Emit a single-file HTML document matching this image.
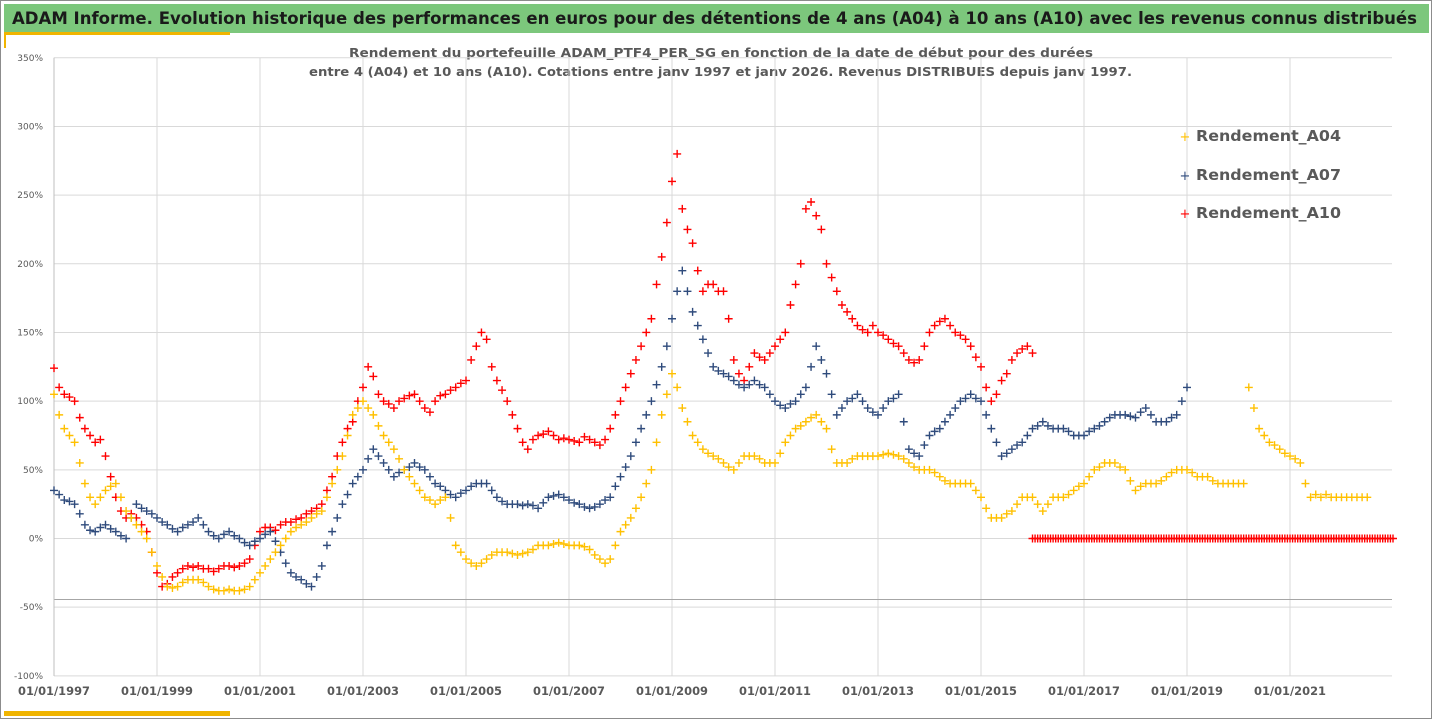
<!DOCTYPE html>
<html><head><meta charset="utf-8">
<style>
body{margin:0;background:#fff;}
#wrap{position:relative;width:1432px;height:719px;overflow:hidden;font-family:"DejaVu Sans","Liberation Sans",sans-serif;}
svg text{font-family:"DejaVu Sans","Liberation Sans",sans-serif;}
</style></head>
<body>
<div id="wrap">
<svg id="svg" width="1432" height="719" xmlns="http://www.w3.org/2000/svg">
<rect x="0.5" y="0.5" width="1431" height="718" fill="#fff" stroke="#8c8c8c"/>
<rect x="4" y="4" width="1425" height="29" fill="#7cc77c"/>
<rect x="4" y="32" width="226" height="3" fill="#f0b400"/>
<rect x="4" y="35" width="2" height="13" fill="#f0b400"/>
<rect x="4" y="711" width="226" height="5" fill="#f0b400"/>
<text x="12" y="24" font-size="16.5" font-weight="bold" fill="#1a1a1a" textLength="1405" lengthAdjust="spacingAndGlyphs">ADAM Informe. Evolution historique des performances en euros pour des détentions de 4 ans (A04) à 10 ans (A10) avec les revenus connus distribués</text>
<text x="349" y="57" font-size="12.5" font-weight="bold" fill="#595959" textLength="744" lengthAdjust="spacingAndGlyphs">Rendement du portefeuille ADAM_PTF4_PER_SG  en fonction de la date de début pour des durées</text>
<text x="309" y="76" font-size="12.5" font-weight="bold" fill="#595959" textLength="823" lengthAdjust="spacingAndGlyphs">entre 4 (A04) et 10 ans (A10). Cotations entre janv 1997 et janv 2026. Revenus DISTRIBUES depuis janv 1997.</text>
<g id="grid"></g><g id="axes"></g><g id="marks"></g>
<g>
<text x="1185" y="141" font-size="13" fill="#ffc000" text-anchor="middle">+</text>
<text x="1196" y="141" font-size="15" font-weight="bold" fill="#595959" textLength="145" lengthAdjust="spacingAndGlyphs">Rendement_A04</text>
<text x="1185" y="180" font-size="13" fill="#2f4b7c" text-anchor="middle">+</text>
<text x="1196" y="180" font-size="15" font-weight="bold" fill="#595959" textLength="145" lengthAdjust="spacingAndGlyphs">Rendement_A07</text>
<text x="1185" y="218" font-size="13" fill="#ff0000" text-anchor="middle">+</text>
<text x="1196" y="218" font-size="15" font-weight="bold" fill="#595959" textLength="145" lengthAdjust="spacingAndGlyphs">Rendement_A10</text>
</g>
</svg>
</div>
<script>
const yTicks=[350,300,250,200,150,100,50,0,-50,-100];
const xTickYears=[1997,1999,2001,2003,2005,2007,2009,2011,2013,2015,2017,2019,2021];
const startYear=1997, stepYears=0.1;
const a04=[105,90,80,75,70,55,40,30,25,30,35,38,40,30,20,15,10,5,0,-10,-20,-28,-35,-36,-35,-32,-30,-30,-30,-32,-35,-37,-38,-38,-37,-38,-38,-37,-35,-30,-25,-20,-15,-10,-5,0,5,8,10,12,15,18,20,30,40,50,60,75,90,95,100,95,90,82,75,70,65,58,50,45,40,35,30,28,25,28,30,15,-5,-10,-15,-18,-20,-18,-15,-12,-10,-10,-10,-11,-12,-11,-10,-8,-5,-5,-5,-4,-3,-4,-5,-5,-5,-6,-8,-12,-15,-18,-15,-5,5,10,15,22,30,40,50,70,90,105,120,110,95,85,75,70,65,62,60,58,55,52,50,55,60,60,60,58,55,55,55,62,70,75,80,82,85,88,90,85,80,65,55,55,55,58,60,60,60,60,60,61,62,61,60,58,55,52,50,50,50,48,45,42,40,40,40,40,40,35,30,22,15,15,15,18,20,25,30,30,30,25,20,25,30,30,30,32,35,38,40,45,50,52,55,55,55,52,50,42,35,38,40,40,40,42,45,48,50,50,50,48,45,45,45,42,40,40,40,40,40,40,110,95,80,75,70,68,65,62,60,58,55,40,30,32,30,32,30,30,30,30,30,30,30,30];
const a07=[35,32,28,27,25,18,10,6,5,8,10,7,5,2,0,15,25,22,20,18,15,12,10,7,5,8,10,12,15,10,5,2,0,3,5,2,0,-3,-5,-2,0,3,5,-2,-10,-18,-25,-28,-30,-33,-35,-28,-20,-5,5,15,25,32,40,45,50,58,65,60,55,50,45,48,50,52,55,52,50,45,40,38,35,32,30,33,35,38,40,40,40,35,30,27,25,25,25,24,25,24,22,26,30,31,32,30,28,26,25,23,22,23,25,28,30,38,45,52,60,70,80,90,100,112,125,140,160,180,195,180,165,155,145,135,125,122,120,118,115,112,110,112,115,112,110,105,100,97,95,98,100,105,110,125,140,130,120,105,90,95,100,102,105,100,95,92,90,95,100,102,105,85,65,62,60,68,75,78,80,85,90,95,100,102,105,102,100,90,80,70,60,62,65,68,70,75,80,82,85,82,80,80,80,78,75,75,75,78,80,82,85,88,90,90,90,89,88,92,95,90,85,85,85,88,90,100,110];
const a10=[124,110,105,103,100,88,80,75,70,72,60,45,30,20,15,18,15,10,5,-10,-25,-35,-33,-28,-25,-22,-20,-21,-20,-22,-22,-24,-22,-20,-20,-21,-20,-18,-15,-5,5,8,8,6,10,12,12,14,15,18,20,22,25,35,45,60,70,80,85,100,110,125,118,105,100,98,95,100,102,104,105,100,95,92,100,104,105,108,110,113,115,130,140,150,145,125,115,108,100,90,80,70,65,72,75,76,78,75,72,73,72,71,70,74,72,70,68,72,80,90,100,110,120,130,140,150,160,185,205,230,260,280,240,225,215,195,180,185,185,180,180,160,130,120,115,125,135,132,130,135,140,145,150,170,185,200,240,245,235,225,200,190,180,170,165,160,155,152,150,155,150,148,145,142,140,135,130,128,130,140,150,155,158,160,155,150,148,145,140,132,125,110,100,105,115,120,130,135,138,140,135];
const a10TailStart=2016.0, a10TailStep=0.05;
const a10Tail=[0,0,0,0,0,0,0,0,0,0,0,0,0,0,0,0,0,0,0,0,0,0,0,0,0,0,0,0,0,0,0,0,0,0,0,0,0,0,0,0,0,0,0,0,0,0,0,0,0,0,0,0,0,0,0,0,0,0,0,0,0,0,0,0,0,0,0,0,0,0,0,0,0,0,0,0,0,0,0,0,0,0,0,0,0,0,0,0,0,0,0,0,0,0,0,0,0,0,0,0,0,0,0,0,0,0,0,0,0,0,0,0,0,0,0,0,0,0,0,0,0,0,0,0,0,0,0,0,0,0,0,0,0,0,0,0,0,0,0,0,0];

const NS="http://www.w3.org/2000/svg";
const X0=54, YEARPX=51.5;
function xs(t){return X0+(t-1997)*YEARPX;}
function ys(v){return 538.5-v*1.3735;}
const grid=document.getElementById('grid'), axes=document.getElementById('axes'), marks=document.getElementById('marks');
function mk(tag,attrs,parent){const e=document.createElementNS(NS,tag);for(const k in attrs)e.setAttribute(k,attrs[k]);parent.appendChild(e);return e;}
const xEnd=1392;
yTicks.forEach(v=>{
  const l=mk('line',{x1:X0,x2:xEnd,y1:ys(v),y2:ys(v),stroke:'#d9d9d9','stroke-width':1},grid);
  
  
  const t=mk('text',{x:43,y:ys(v)+3,'font-size':9,fill:'#595959','text-anchor':'end'},axes);
  t.textContent=v+'%';
  
  
});
xTickYears.forEach(yr=>{
  const l=mk('line',{x1:xs(yr),x2:xs(yr),y1:ys(350),y2:ys(-100),stroke:'#d9d9d9','stroke-width':1},grid);
  
  
  const t=mk('text',{x:xs(yr),y:695,'font-size':11.5,'font-weight':'bold',fill:'#595959','text-anchor':'middle',textLength:72,lengthAdjust:'spacingAndGlyphs'},axes);
  t.textContent='01/01/'+yr;
  
  
});
const ref=mk('line',{x1:X0,x2:xEnd,y1:599.5,y2:599.5,stroke:'#a6a6a6','stroke-width':1},grid);


const yax=mk('line',{x1:X0,x2:X0,y1:ys(350),y2:ys(-100),stroke:'#bfbfbf','stroke-width':1},grid);



function plus(x,y,color,parent,name){
  const p=mk('path',{d:`M${x-4},${y}H${x+4}M${x},${y-4}V${y+4}`,stroke:color,'stroke-width':1.4,fill:'none'},parent);
  
  
}
function series(vals,start,step,color,name){
  const g=mk('g',{},marks);
  
  
  vals.forEach((v,i)=>plus(xs(start+i*step),ys(v),color,g,name+'-point'));
}
series(a10Tail,a10TailStart,a10TailStep,'#ff0000','a10-zero');
series(a10,startYear,stepYears,'#ff0000','a10');
series(a07,startYear,stepYears,'#2f4b7c','a07');
series(a04,startYear,stepYears,'#ffc000','a04');
</script>
</body></html>
